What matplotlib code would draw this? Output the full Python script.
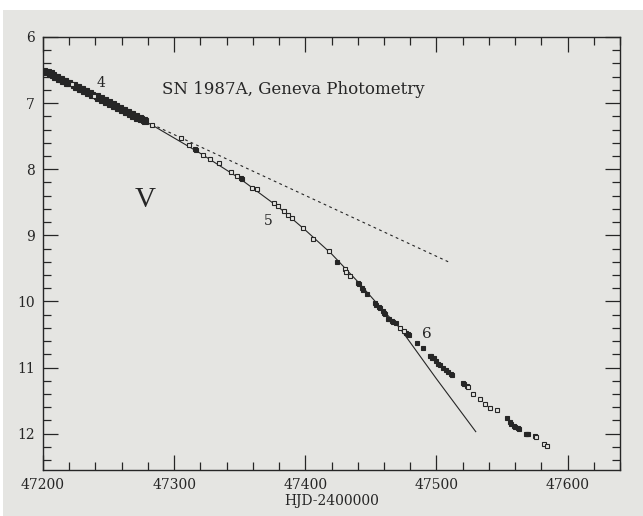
import matplotlib
matplotlib.use("Agg")
import matplotlib.pyplot as plt
from matplotlib.patches import Rectangle
from matplotlib.ticker import MultipleLocator

# --- data (HJD-2400000, V mag) ---
early_t = [47201, 47202, 47204, 47205, 47206, 47208, 47209, 47211, 47212, 47214,
           47215, 47217, 47218, 47220, 47224, 47225, 47227, 47228, 47230, 47231,
           47233, 47234, 47236, 47237, 47241, 47242, 47244, 47245, 47247, 47248,
           47250, 47251, 47253, 47254, 47256, 47257, 47259, 47260, 47262, 47263,
           47265, 47266, 47268, 47269, 47271, 47272, 47274, 47275, 47277, 47278]
early_v = [6.51, 6.53, 6.53, 6.56, 6.55, 6.58, 6.60, 6.60, 6.63, 6.63,
           6.66, 6.66, 6.69, 6.69, 6.73, 6.75, 6.76, 6.78, 6.78, 6.81,
           6.82, 6.84, 6.85, 6.87, 6.89, 6.92, 6.93, 6.95, 6.96, 6.98,
           6.98, 7.01, 7.02, 7.04, 7.04, 7.07, 7.08, 7.10, 7.10, 7.13,
           7.14, 7.16, 7.16, 7.19, 7.19, 7.22, 7.22, 7.24, 7.25, 7.27]

open_t = [47222, 47239, 47283, 47305, 47311, 47322, 47327, 47334, 47343, 47348,
          47359, 47363, 47376, 47379, 47384, 47387, 47390, 47398, 47406, 47418,
          47430, 47431, 47434, 47472, 47475, 47524, 47528, 47533, 47537, 47541,
          47546, 47576, 47582, 47584]
open_v = [6.71, 6.89, 7.33, 7.53, 7.64, 7.79, 7.84, 7.90, 8.04, 8.11,
          8.28, 8.30, 8.51, 8.55, 8.63, 8.70, 8.74, 8.89, 9.05, 9.24,
          9.51, 9.55, 9.62, 10.40, 10.44, 11.30, 11.40, 11.47, 11.55, 11.61,
          11.64, 12.05, 12.15, 12.18]

filled_t = [47316, 47317, 47351, 47352, 47424, 47440, 47441, 47443, 47444, 47447,
            47453, 47454, 47456, 47457, 47459, 47460, 47461, 47463, 47464, 47466,
            47467, 47469, 47477, 47478, 47479, 47485, 47490, 47495, 47496, 47497,
            47498, 47500, 47501, 47503, 47505, 47507, 47509, 47511, 47512, 47520,
            47521, 47523, 47554, 47556, 47557, 47559, 47560, 47562, 47563, 47568,
            47569, 47570, 47575]
filled_v = [7.70, 7.71, 8.14, 8.15, 9.40, 9.72, 9.74, 9.80, 9.82, 9.89,
            10.03, 10.05, 10.08, 10.10, 10.15, 10.17, 10.19, 10.26, 10.27, 10.30,
            10.31, 10.33, 10.48, 10.49, 10.51, 10.63, 10.71, 10.82, 10.83, 10.85,
            10.86, 10.90, 10.94, 10.96, 11.00, 11.03, 11.06, 11.10, 11.12, 11.24,
            11.25, 11.28, 11.77, 11.82, 11.85, 11.88, 11.90, 11.92, 11.93, 12.00,
            12.00, 12.01, 12.04]

# model curves
solid_t = [47200, 47283, 47320, 47350, 47380, 47400, 47420, 47440, 47460, 47472, 47500, 47530]
solid_v = [6.50, 7.33, 7.76, 8.14, 8.58, 8.92, 9.28, 9.70, 10.15, 10.40, 11.17, 11.97]
dash_t = [47283, 47509]
dash_v = [7.32, 9.40]

bg = '#e5e5e2'
ink = '#262626'
serif = 'DejaVu Serif'

fig = plt.figure(figsize=(6.43, 5.16), dpi=100, facecolor='white')
# scanned page area (grey), kept behind the axes
fig.add_artist(Rectangle((3 / 643, 0), 1, 1 - 10 / 516, transform=fig.transFigure,
                         facecolor=bg, edgecolor='none', zorder=-10))
ax = fig.add_axes([43 / 643, 1 - 470 / 516, (620 - 43) / 643, (470 - 37) / 516])
ax.set_facecolor(bg)

ax.plot(solid_t, solid_v, color=ink, lw=0.8, zorder=2)
ax.plot(dash_t, dash_v, color=ink, lw=0.8, ls=(0, (2.5, 3)), zorder=2)
ax.plot(early_t, early_v, 's', ms=4.0, mfc=ink, mec=ink, mew=0.8, zorder=3)
ax.plot(filled_t, filled_v, 's', ms=3.2, mfc=ink, mec=ink, mew=0.8, zorder=3)
ax.plot(open_t, open_v, 's', ms=3.2, mfc=bg, mec=ink, mew=0.8, zorder=4)

ax.set_xlim(47200, 47640)
ax.set_ylim(12.55, 6)

ax.xaxis.set_major_locator(MultipleLocator(100))
ax.xaxis.set_minor_locator(MultipleLocator(20))
ax.yaxis.set_major_locator(MultipleLocator(1))
ax.yaxis.set_minor_locator(MultipleLocator(0.2))
ax.tick_params(which='both', direction='in', top=True, right=True, colors=ink, width=0.9)
ax.tick_params(which='major', length=11, labelsize=10, pad=6)
ax.tick_params(which='minor', length=5.5)
for lab in ax.get_xticklabels() + ax.get_yticklabels():
    lab.set_family(serif)
for s in ax.spines.values():
    s.set_color(ink)
    s.set_linewidth(1.0)

ax.set_xlabel('HJD-2400000', family=serif, fontsize=10, color=ink, labelpad=1)

ax.text(47291, 6.80, 'SN 1987A, Geneva Photometry', family=serif, fontsize=12,
        color=ink, va='center', ha='left')
ax.text(47244, 6.70, '4', family=serif, fontsize=10, color=ink, ha='center', va='center')
ax.text(47372, 8.78, '5', family=serif, fontsize=10, color=ink, ha='center', va='center')
ax.text(47493, 10.49, '6', family=serif, fontsize=11, color=ink, ha='center', va='center')
ax.text(47278, 8.47, 'V', family='Liberation Serif', fontsize=21, color=ink,
        ha='center', va='center')

fig.savefig('out.png', dpi=100, facecolor=fig.get_facecolor())
